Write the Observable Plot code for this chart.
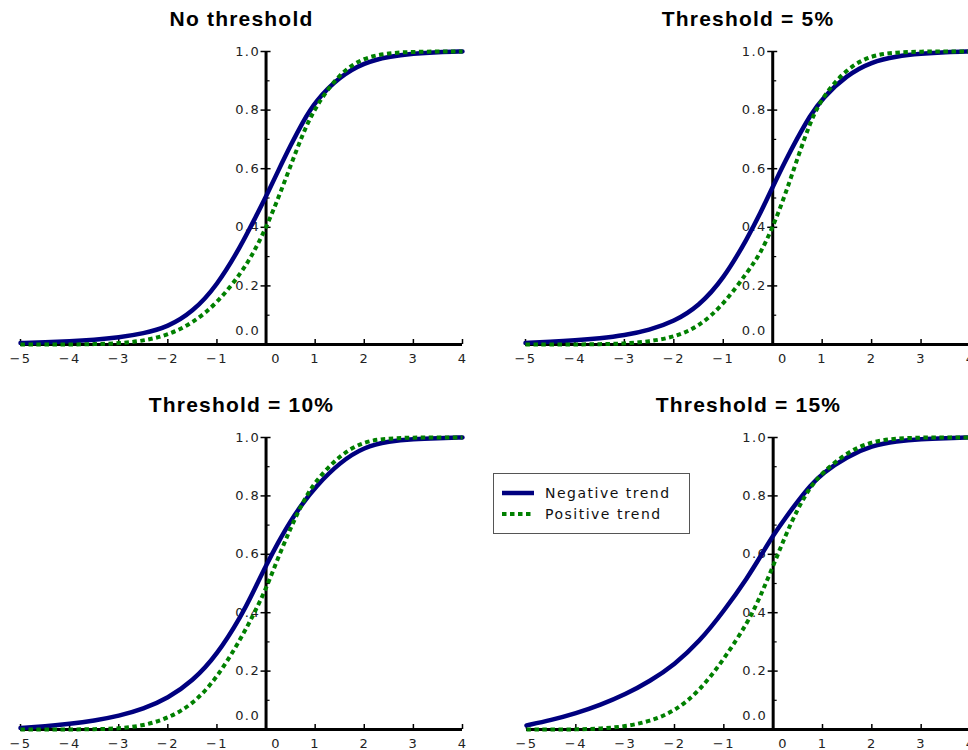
<!DOCTYPE html>
<html>
<head>
<meta charset="utf-8">
<script src="https://cdn.jsdelivr.net/npm/d3@7"></script>
<script src="https://cdn.jsdelivr.net/npm/@observablehq/plot@0.6"></script>
<style>
  body { margin: 0; background: #fff; overflow: hidden; }
  #wrap { position: relative; width: 968px; height: 750px; overflow: hidden; background: #fff; }
  .panel { position: absolute; }
  .panel svg { overflow: visible; max-width: none !important; }
  #legend { position: absolute; left: 493px; top: 473px; }
</style>
</head>
<body>
<div id="wrap"></div>
<script>
// ---- data ----
const xValues = [-5, -4.5, -4, -3.5, -3, -2.5, -2, -1.5, -1, -0.5, -0.25, 0, 0.25, 0.5, 0.75, 1, 1.5, 2, 2.5, 3, 3.5, 4];

const titles = ["No threshold", "Threshold = 5%", "Threshold = 10%", "Threshold = 15%"];
const seriesNames = ["Negative trend", "Positive trend"];

const negNoThreshold = [0.005, 0.008, 0.011, 0.016, 0.024, 0.037, 0.06, 0.11, 0.2, 0.34, 0.423, 0.505, 0.594, 0.68, 0.76, 0.83, 0.915, 0.962, 0.983, 0.993, 0.998, 1.0];
const posNoThreshold = [0.0, 0.0, 0.0, 0.001, 0.004, 0.012, 0.032, 0.072, 0.14, 0.245, 0.315, 0.398, 0.5, 0.61, 0.72, 0.81, 0.928, 0.98, 0.995, 0.999, 1.0, 1.0];

const negThr5 = [0.005, 0.009, 0.014, 0.021, 0.031, 0.049, 0.078, 0.13, 0.222, 0.366, 0.448, 0.538, 0.625, 0.705, 0.78, 0.84, 0.92, 0.965, 0.984, 0.993, 0.998, 1.0];
const posThr5 = [0.0, 0.0, 0.0, 0.001, 0.003, 0.01, 0.025, 0.06, 0.135, 0.25, 0.31, 0.40, 0.51, 0.635, 0.755, 0.845, 0.943, 0.988, 0.997, 1.0, 1.0, 1.0];

const negThr10 = [0.005, 0.011, 0.019, 0.03, 0.046, 0.07, 0.107, 0.165, 0.255, 0.39, 0.475, 0.562, 0.642, 0.715, 0.775, 0.83, 0.915, 0.968, 0.987, 0.995, 0.998, 1.0];
const posThr10 = [0.0, 0.0, 0.0, 0.001, 0.003, 0.013, 0.038, 0.085, 0.175, 0.315, 0.395, 0.482, 0.59, 0.69, 0.78, 0.85, 0.94, 0.988, 0.997, 1.0, 1.0, 1.0];

const negThr15 = [0.014, 0.032, 0.055, 0.084, 0.12, 0.165, 0.222, 0.3, 0.405, 0.525, 0.595, 0.665, 0.725, 0.782, 0.835, 0.878, 0.935, 0.972, 0.988, 0.995, 0.998, 1.0];
const posThr15 = [0.0, 0.0, 0.0, 0.003, 0.01, 0.028, 0.062, 0.13, 0.24, 0.37, 0.46, 0.56, 0.665, 0.757, 0.83, 0.88, 0.95, 0.987, 0.997, 1.0, 1.0, 1.0];

const xTicks = [-5, -4, -3, -2, -1, 1, 2, 3, 4];
const xZeroTick = [0];
const yMajorTicks = [0.2, 0.4, 0.6, 0.8, 1.0];
const yMinorTicks = [0.1, 0.3, 0.5, 0.7, 0.9];
const yZeroLabel = [0.0];

// ---- layout ----
const panels = [
  {title: titles[0], neg: negNoThreshold, pos: posNoThreshold, left: 0,   top: 0,   width: 480, height: 380, mL: 20, mR: 18, mT: 51, mB: 36},
  {title: titles[1], neg: negThr5,        pos: posThr5,        left: 480, top: 0,   width: 500, height: 380, mL: 45, mR: 10, mT: 51, mB: 36},
  {title: titles[2], neg: negThr10,       pos: posThr10,       left: 0,   top: 380, width: 480, height: 370, mL: 20, mR: 18, mT: 57, mB: 21},
  {title: titles[3], neg: negThr15,       pos: posThr15,       left: 480, top: 380, width: 500, height: 370, mL: 46, mR: 10, mT: 57, mB: 21}
];

const NAVY = "#00007f";
const GREEN = "#008000";
const fmtX = d => d < 0 ? "\u2212" + (-d) : String(d);

const wrap = document.getElementById("wrap");

for (const p of panels) {
  const fw = p.width - p.mL - p.mR;
  const fh = p.height - p.mT - p.mB;
  const x0 = (0 - (-5)) / 9 * fw;   // position of x = 0 inside the frame
  const rows = xValues.flatMap((x, i) => [
    {x, y: p.neg[i], series: seriesNames[0]},
    {x, y: p.pos[i], series: seriesNames[1]}
  ]);
  const chart = Plot.plot({
    width: p.width,
    height: p.height,
    marginLeft: p.mL, marginRight: p.mR, marginTop: p.mT, marginBottom: p.mB,
    x: {domain: [-5, 4], axis: null},
    y: {domain: [0, 1], axis: null},
    style: {fontFamily: "'DejaVu Sans', sans-serif", fontSize: "13px", letterSpacing: "1.4px", color: "#222", background: "transparent", maxWidth: "none"},
    marks: [
      // y tick labels (left of the axis at x = 0)
      Plot.text(yMajorTicks, {x: 0, y: d => d, dx: -6, textAnchor: "end", text: d => d.toFixed(1), fill: "#222"}),
      Plot.text(yZeroLabel, {x: 0, y: d => d, dx: -6, dy: -14, textAnchor: "end", text: d => d.toFixed(1), fill: "#222"}),
      // x tick labels
      Plot.text(xTicks, {x: d => d, y: 0, dy: 14, text: fmtX, fill: "#222"}),
      Plot.text(xZeroTick, {x: d => d, y: 0, dy: 14, dx: 10, text: fmtX, fill: "#222"}),
      // ticks
      Plot.tickX(xTicks.concat(xZeroTick), {x: d => d, insetTop: fh - 5, stroke: "#000", strokeWidth: 1.5}),
      Plot.tickY(yMajorTicks, {y: d => d, insetLeft: x0 - 5, insetRight: fw - x0 - 5, stroke: "#000", strokeWidth: 1.5}),
      Plot.tickY(yMinorTicks, {y: d => d, insetLeft: x0, insetRight: fw - x0 - 4, stroke: "#000", strokeWidth: 1.2}),
      // axis lines
      Plot.ruleY([0], {stroke: "#000", strokeWidth: 3}),
      Plot.ruleX([0], {stroke: "#000", strokeWidth: 3}),
      // curves
      Plot.line(rows.filter(d => d.series === seriesNames[0]), {x: "x", y: "y", stroke: NAVY, strokeWidth: 4.5, curve: "basis"}),
      Plot.line(rows.filter(d => d.series === seriesNames[1]), {x: "x", y: "y", stroke: GREEN, strokeWidth: 4, strokeDasharray: "4.5,3.5", strokeLinecap: "butt", curve: "basis"}),
      // title
      Plot.text([p.title], {frameAnchor: "top", dy: -26, lineAnchor: "bottom", fill: "#000",
        fontSize: 21, fontWeight: "bold", fontFamily: "'Liberation Sans', Arial, sans-serif"})
    ]
  });
  d3.select(chart).selectAll("text").filter(function() { return this.textContent === p.title; })
    .style("letter-spacing", "1.2px");
  const div = document.createElement("div");
  div.className = "panel";
  div.style.left = p.left + "px";
  div.style.top = p.top + "px";
  div.style.width = p.width + "px";
  div.style.height = p.height + "px";
  div.appendChild(chart);
  wrap.appendChild(div);
}

// ---- legend ----
const legendDiv = document.createElement("div");
legendDiv.id = "legend";
wrap.appendChild(legendDiv);
const lg = d3.select(legendDiv).append("svg").attr("width", 198).attr("height", 62);
lg.append("rect").attr("x", 0.5).attr("y", 0.5).attr("width", 196).attr("height", 60)
  .attr("fill", "#fff").attr("stroke", "#555").attr("stroke-width", 1);
const legendItems = [
  {name: seriesNames[0], color: NAVY, dash: null, width: 4.5, y: 20},
  {name: seriesNames[1], color: GREEN, dash: "4.5,3.5", width: 4, y: 41}
];
for (const it of legendItems) {
  lg.append("line").attr("x1", 9).attr("x2", 41).attr("y1", it.y).attr("y2", it.y)
    .attr("stroke", it.color).attr("stroke-width", it.width)
    .attr("stroke-dasharray", it.dash);
  lg.append("text").attr("x", 52).attr("y", it.y).attr("dy", "0.35em")
    .attr("font-family", "'DejaVu Sans', sans-serif").attr("font-size", 14)
    .attr("letter-spacing", "1.5px").attr("fill", "#111").text(it.name);
}
</script>
</body>
</html>
